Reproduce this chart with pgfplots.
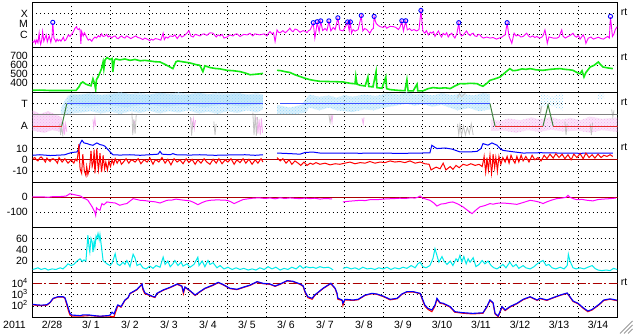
\documentclass[border=0pt]{standalone}
\usepackage{fontspec}
\setmainfont{Liberation Sans}
\usepackage{pgfplots}
\pgfplotsset{compat=1.18}
\usetikzlibrary{patterns}
\definecolor{mag}{RGB}{255,0,255}
\definecolor{grn}{RGB}{20,235,20}
\definecolor{lb}{RGB}{150,215,250}
\definecolor{lpink}{RGB}{245,175,240}
\definecolor{lgray}{RGB}{195,195,195}
\definecolor{dred}{RGB}{170,0,0}
\definecolor{tblue}{RGB}{60,80,255}
\definecolor{tgreen}{RGB}{60,130,60}
\definecolor{tred}{RGB}{230,40,40}
\definecolor{cyn}{RGB}{0,235,235}
\pgfplotsset{
  panel/.style={
    at={(32.5pt,-#1pt)}, anchor=north west,
    scale only axis, width=585pt, height=45pt,
    xmin=0, xmax=15,
    axis line style={line width=1pt},
    major tick length=0pt, minor tick length=0pt,
    xtick={0.5,1.5,...,14.5}, xticklabels={},
    minor xtick={1,2,...,14}, xminorgrids=true, xmajorgrids=false,
    ymajorgrids=true,
    minor grid style={black, line width=0.9pt, dash pattern=on 0.9pt off 3.1pt},
    major grid style={black, line width=0.9pt, dash pattern=on 0.9pt off 3.1pt},
    every tick label/.append style={font=\fontsize{10.5}{12}\selectfont},
    yticklabel style={inner sep=0pt, xshift=-4.5pt, text height=7pt, text depth=0pt},
    clip=true,
  },
  lbpat/.style={draw=none, pattern=crosshatch dots, pattern color=lb},
}
\begin{document}
\begin{tikzpicture}
\useasboundingbox (0pt,-334pt) rectangle (633pt,0pt);
\fill[white] (0pt,-334pt) rectangle (633pt,0pt);

% ---------- Panel 1: X-ray ----------
\begin{axis}[panel=2.3, ymin=-7.17, ymax=-2.93, ytick={-6,-5,-4}, yticklabels={C,M,X}]
\addplot[mag, line width=0.9pt] coordinates {
(0.00,-6.63)(0.03,-6.7)(0.06,-6.5)(0.08,-6.8)(0.11,-6.47)(0.14,-6.75)(0.17,-5.84)(0.19,-6.6)(0.21,-6.9)(0.24,-6.4)(0.26,-5.69)(0.29,-6.6)(0.32,-6.3)(0.35,-6.0)(0.38,-6.65)(0.41,-6.3)(0.43,-6.1)(0.47,-6.7)(0.50,-6.2)(0.52,-4.87)(0.55,-6.3)(0.58,-6.5)(0.60,-6.65)(0.63,-6.4)(0.66,-6.57)(0.70,-6.45)(0.73,-6.6)(0.79,-6.22)(0.82,-6.55)(0.85,-6.5)(0.88,-6.3)(0.92,-6.0)(0.96,-6.15)(1.00,-5.95)(1.03,-5.84)(1.06,-5.6)(1.09,-5.37)(1.13,-5.22)(1.15,-5.45)(1.18,-5.5)(1.20,-5.4)(1.22,-5.53)(1.24,-6.85)(1.26,-5.68)(1.28,-5.9)(1.30,-6.1)(1.33,-5.8)(1.36,-6.0)(1.40,-6.3)(1.43,-6.5)(1.47,-6.4)(1.52,-6.6)(1.56,-6.35)(1.60,-6.2)(1.64,-6.3)(1.69,-6.07)(1.73,-6.2)(1.77,-5.9)(1.81,-6.15)(1.86,-6.1)(1.90,-5.95)(1.94,-6.2)(1.98,-6.1)(2.03,-6.3)(2.07,-6.15)(2.12,-6.1)(2.16,-6.3)(2.20,-6.35)(2.24,-6.2)(2.29,-6.1)(2.33,-6.25)(2.37,-6.3)(2.41,-6.1)(2.46,-6.2)(2.52,-6.35)(2.58,-6.22)(2.65,-6.1)(2.70,-6.25)(2.76,-6.3)(2.83,-6.45)(2.88,-6.3)(2.94,-6.4)(3.01,-6.55)(3.05,-6.4)(3.09,-6.5)(3.15,-6.35)(3.22,-6.4)(3.29,-6.5)(3.35,-5.84)(3.38,-6.45)(3.42,-6.2)(3.47,-6.3)(3.53,-6.1)(3.60,-6.15)(3.65,-6.0)(3.71,-6.35)(3.78,-6.0)(3.83,-6.2)(3.88,-6.1)(3.96,-5.84)(4.01,-5.6)(4.06,-6.1)(4.12,-6.2)(4.17,-5.95)(4.22,-6.0)(4.29,-6.1)(4.35,-5.95)(4.40,-5.9)(4.47,-6.05)(4.55,-5.8)(4.63,-5.84)(4.71,-6.2)(4.76,-6.0)(4.81,-6.1)(4.86,-5.95)(4.91,-6.3)(4.99,-6.2)(5.06,-6.0)(5.14,-6.1)(5.19,-5.95)(5.24,-5.9)(5.32,-6.15)(5.42,-5.95)(5.50,-6.0)(5.58,-5.85)(5.65,-6.1)(5.70,-5.9)(5.76,-5.95)(5.83,-6.0)(5.94,-5.9)(6.01,-6.1)(6.05,-5.85)(6.09,-5.69)(6.14,-5.9)(6.18,-5.8)(6.22,-6.63)(6.27,-5.53)(6.31,-5.75)(6.35,-5.8)(6.42,-5.6)(6.48,-5.8)(6.53,-5.65)(6.60,-5.37)(6.64,-5.6)(6.68,-5.7)(6.73,-5.45)(6.78,-5.5)(6.86,-5.75)(6.94,-5.6)(7.00,-5.7)(7.04,-5.78)(7.08,-5.6)(7.12,-5.53)(7.20,-4.9)(7.24,-6.3)(7.27,-5.6)(7.30,-4.8)(7.35,-5.7)(7.39,-4.72)(7.44,-5.6)(7.50,-5.4)(7.55,-5.6)(7.60,-4.72)(7.65,-5.63)(7.71,-5.3)(7.76,-5.5)(7.83,-4.43)(7.88,-5.53)(7.96,-5.63)(8.03,-5.2)(8.08,-4.8)(8.12,-5.6)(8.15,-4.8)(8.18,-5.84)(8.22,-5.5)(8.27,-5.65)(8.35,-5.5)(8.43,-4.21)(8.47,-5.63)(8.52,-5.4)(8.57,-5.5)(8.65,-5.84)(8.70,-5.5)(8.74,-5.4)(8.76,-4.3)(8.81,-4.9)(8.86,-5.1)(8.91,-5.22)(8.99,-5.3)(9.04,-5.15)(9.08,-5.37)(9.17,-5.2)(9.25,-5.22)(9.32,-5.3)(9.38,-5.5)(9.42,-5.3)(9.47,-4.71)(9.51,-5.63)(9.57,-4.71)(9.61,-5.53)(9.67,-5.4)(9.72,-5.6)(9.78,-5.5)(9.85,-5.63)(9.91,-5.5)(9.96,-3.74)(10.01,-5.63)(10.06,-5.84)(10.10,-5.6)(10.15,-6.0)(10.20,-5.75)(10.24,-5.84)(10.28,-5.7)(10.32,-6.15)(10.36,-5.9)(10.41,-5.63)(10.45,-6.0)(10.49,-6.2)(10.53,-5.85)(10.58,-6.0)(10.62,-5.8)(10.66,-6.2)(10.70,-6.0)(10.75,-5.84)(10.79,-6.1)(10.83,-6.3)(10.88,-5.9)(10.93,-4.9)(10.96,-5.84)(11.00,-6.1)(11.05,-6.0)(11.09,-5.8)(11.13,-5.63)(11.17,-5.9)(11.22,-6.07)(11.26,-5.9)(11.30,-5.84)(11.34,-6.1)(11.39,-6.15)(11.43,-5.95)(11.47,-6.0)(11.52,-6.2)(11.56,-6.3)(11.65,-6.2)(11.73,-6.3)(11.81,-6.25)(11.90,-6.4)(11.96,-6.3)(12.03,-6.22)(12.07,-6.1)(12.12,-6.0)(12.17,-4.9)(12.22,-6.15)(12.29,-6.79)(12.35,-5.84)(12.40,-6.1)(12.46,-6.0)(12.52,-6.2)(12.58,-6.15)(12.67,-5.84)(12.72,-6.1)(12.76,-6.22)(12.83,-6.1)(12.88,-6.25)(12.93,-6.15)(13.00,-6.3)(13.06,-6.22)(13.10,-6.0)(13.14,-5.53)(13.17,-6.1)(13.20,-6.8)(13.24,-6.2)(13.27,-6.22)(13.35,-6.3)(13.44,-6.31)(13.50,-6.2)(13.57,-5.53)(13.60,-6.1)(13.66,-6.3)(13.71,-6.2)(13.78,-6.07)(13.86,-5.84)(13.90,-6.1)(13.95,-6.22)(14.00,-6.05)(14.04,-6.4)(14.08,-6.2)(14.12,-6.0)(14.16,-6.3)(14.19,-6.8)(14.25,-6.31)(14.32,-6.2)(14.38,-6.4)(14.45,-6.3)(14.51,-6.22)(14.58,-6.35)(14.64,-6.4)(14.70,-6.25)(14.75,-6.15)(14.79,-6.3)(14.82,-4.3)(14.87,-6.15)(14.91,-5.9)(14.94,-5.53)(14.99,-5.22)};
\addplot[only marks, mark=o, mark size=2.1pt, blue, mark options={line width=0.9pt}] coordinates {
(0.52,-4.82)(7.20,-4.85)(7.30,-4.76)(7.39,-4.68)(7.60,-4.68)(7.83,-4.39)(8.08,-4.78)(8.15,-4.78)(8.43,-4.17)(8.76,-4.26)(9.47,-4.67)(9.57,-4.67)(9.96,-3.70)(10.93,-4.85)(12.17,-4.85)(14.82,-4.26)};
\end{axis}

% ---------- Panel 2: speed ----------
\begin{axis}[panel=47.3, ymin=300, ymax=800, ytick={400,500,600,700}, yticklabels={400,500,600,700},
  yticklabel style={text height=6.5pt}]
\addplot[grn, line width=1.6pt] coordinates {(0,322)(0.19,325)(0.45,320)(0.71,320)(0.96,320)(1.12,322)(1.19,360)(1.24,400)(1.29,415)(1.37,390)(1.45,378)(1.50,372)(1.55,450)(1.59,400)(1.62,330)(1.64,440)(1.68,470)(1.73,520)(1.77,563)(1.81,637)(1.83,560)(1.86,660)(1.91,685)(1.99,665)(2.04,675)(2.06,526)(2.10,660)(2.14,670)(2.24,660)(2.37,670)(2.50,655)(2.63,665)(2.76,650)(2.88,655)(3.01,648)(3.14,640)(3.27,637)(3.40,610)(3.53,580)(3.60,563)(3.68,640)(3.73,648)(3.91,635)(4.04,626)(4.17,610)(4.29,600)(4.37,530)(4.42,595)(4.55,575)(4.68,565)(4.81,560)(4.99,544)(5.14,540)(5.32,530)(5.45,515)(5.58,495)(5.71,500)(5.83,505)(5.91,510)};
\addplot[grn, line width=1.6pt] coordinates {(6.27,544)(6.37,540)(6.47,530)(6.60,520)(6.73,495)(6.86,475)(6.99,455)(7.12,440)(7.24,430)(7.37,422)(7.55,420)(7.76,418)(7.96,415)(8.14,400)(8.27,395)(8.29,480)(8.32,390)(8.40,378)(8.53,370)(8.60,470)(8.62,365)(8.73,360)(8.81,530)(8.83,352)(8.96,345)(9.06,470)(9.08,340)(9.17,330)(9.29,325)(9.42,320)(9.55,318)(9.60,440)(9.63,316)(9.76,315)(9.86,390)(9.88,315)(10.01,315)(10.14,340)(10.27,352)(10.44,345)(10.58,350)(10.71,341)(10.83,370)(10.96,396)(11.09,395)(11.22,400)(11.40,396)(11.47,380)(11.55,367)(11.65,400)(11.73,433)(11.86,450)(11.99,470)(12.12,520)(12.24,563)(12.32,540)(12.42,544)(12.55,560)(12.65,555)(12.76,563)(12.91,550)(13.09,544)(13.27,555)(13.42,560)(13.53,563)(13.65,555)(13.78,550)(13.86,544)(13.96,520)(14.04,507)(14.09,540)(14.14,470)(14.19,520)(14.30,581)(14.40,600)(14.51,637)(14.56,610)(14.63,581)(14.76,570)(14.88,563)};
\end{axis}

% ---------- Panel 3: sector T/A ----------
\begin{axis}[panel=92.3, ymin=0, ymax=1, ytick={0.25,0.75}, yticklabels={A,T}, unbounded coords=jump]
% light blue (toward) data cloud
\addplot[draw=none, fill=lb, fill opacity=0.3] coordinates {(0.72,0.55)(0.75,0.68)(0.82,0.8)(0.9,0.92)(1.0,0.97)(1.25,0.94)(1.5,0.99)(1.75,0.95)(2.0,0.97)(2.25,1.0)(2.5,0.96)(2.75,0.99)(3.0,0.95)(3.25,0.99)(3.5,0.97)(3.75,1.0)(4.0,0.96)(4.25,0.99)(4.5,0.95)(4.75,0.99)(5.0,0.97)(5.25,0.99)(5.5,0.94)(5.75,0.98)(5.91,0.95)(5.91,0.62)(5.75,0.55)(5.5,0.6)(5.25,0.54)(5.0,0.58)(4.75,0.52)(4.5,0.57)(4.25,0.53)(4.0,0.6)(3.75,0.55)(3.5,0.58)(3.25,0.53)(3.0,0.59)(2.75,0.54)(2.5,0.58)(2.25,0.52)(2.0,0.57)(1.75,0.53)(1.5,0.58)(1.25,0.55)(1.0,0.53)(0.8,0.5)};
\addplot[lbpat] coordinates {(0.72,0.55)(0.75,0.68)(0.82,0.8)(0.9,0.92)(1.0,0.97)(1.25,0.94)(1.5,0.99)(1.75,0.95)(2.0,0.97)(2.25,1.0)(2.5,0.96)(2.75,0.99)(3.0,0.95)(3.25,0.99)(3.5,0.97)(3.75,1.0)(4.0,0.96)(4.25,0.99)(4.5,0.95)(4.75,0.99)(5.0,0.97)(5.25,0.99)(5.5,0.94)(5.75,0.98)(5.91,0.95)(5.91,0.62)(5.75,0.55)(5.5,0.6)(5.25,0.54)(5.0,0.58)(4.75,0.52)(4.5,0.57)(4.25,0.53)(4.0,0.6)(3.75,0.55)(3.5,0.58)(3.25,0.53)(3.0,0.59)(2.75,0.54)(2.5,0.58)(2.25,0.52)(2.0,0.57)(1.75,0.53)(1.5,0.58)(1.25,0.55)(1.0,0.53)(0.8,0.5)};
\addplot[draw=none, fill=lb, fill opacity=0.35] coordinates {(0.9,0.75)(0.95,0.92)(1.3,0.97)(1.8,0.93)(2.3,0.98)(2.8,0.94)(3.3,0.98)(3.8,0.93)(4.3,0.98)(4.8,0.94)(5.3,0.97)(5.91,0.93)(5.91,0.74)(5.4,0.68)(4.9,0.73)(4.4,0.67)(3.9,0.72)(3.4,0.68)(2.9,0.73)(2.4,0.67)(1.9,0.72)(1.4,0.68)(1.0,0.72)};
\addplot[draw=none, fill=lb, fill opacity=0.35] coordinates {(6.27,0.72)(6.6,0.66)(6.9,0.72)(7.05,0.9)(7.1,0.95)(7.35,0.9)(7.6,0.93)(7.8,0.88)(8.0,0.94)(8.2,0.9)(8.5,0.95)(8.8,0.92)(9.1,0.98)(9.4,0.95)(9.6,1.0)(9.8,0.95)(10.0,0.97)(10.25,0.93)(10.5,0.98)(10.75,0.94)(11.0,0.97)(11.3,0.93)(11.55,0.98)(11.73,0.96)(11.73,0.62)(11.45,0.58)(11.2,0.65)(10.9,0.6)(10.5,0.72)(10.25,0.68)(10.0,0.74)(9.8,0.7)(9.6,0.75)(9.3,0.7)(9.0,0.66)(8.75,0.6)(8.5,0.62)(8.2,0.56)(7.8,0.6)(7.6,0.66)(7.35,0.6)(7.1,0.66)(7.0,0.55)(6.6,0.5)(6.27,0.53)};
\addplot[lbpat] coordinates {(6.27,0.72)(6.6,0.66)(6.9,0.72)(7.05,0.9)(7.1,0.95)(7.35,0.9)(7.6,0.93)(7.8,0.88)(8.0,0.94)(8.2,0.9)(8.5,0.95)(8.8,0.92)(9.1,0.98)(9.4,0.95)(9.6,1.0)(9.8,0.95)(10.0,0.97)(10.25,0.93)(10.5,0.98)(10.75,0.94)(11.0,0.97)(11.3,0.93)(11.55,0.98)(11.73,0.96)(11.73,0.62)(11.45,0.58)(11.2,0.65)(10.9,0.6)(10.5,0.72)(10.25,0.68)(10.0,0.74)(9.8,0.7)(9.6,0.75)(9.3,0.7)(9.0,0.66)(8.75,0.6)(8.5,0.62)(8.2,0.56)(7.8,0.6)(7.6,0.66)(7.35,0.6)(7.1,0.66)(7.0,0.55)(6.6,0.5)(6.27,0.53)};
\addplot[lbpat] coordinates {(13.0,0.65)(13.05,0.98)(13.3,0.9)(13.6,0.98)(13.6,0.6)(13.3,0.7)};
\addplot[lbpat] coordinates {(14.48,0.85)(14.5,0.98)(14.66,0.98)(14.66,0.85)};
% light pink (away) data cloud
\addplot[draw=none, fill=lpink, fill opacity=0.45] coordinates {(0,0.6)(0.2,0.52)(0.4,0.58)(0.6,0.5)(0.75,0.45)(0.75,0.12)(0.5,0.16)(0.3,0.1)(0,0.15)};
\addplot[draw=none, pattern=crosshatch dots, pattern color=lpink] coordinates {(0,0.6)(0.2,0.52)(0.4,0.58)(0.6,0.5)(0.75,0.45)(0.75,0.12)(0.5,0.16)(0.3,0.1)(0,0.15)};
\addplot[draw=none, fill=lpink, fill opacity=0.3] coordinates {(11.75,0.40)(12.0,0.36)(12.2,0.42)(12.5,0.38)(12.8,0.44)(13.0,0.40)(13.3,0.45)(13.55,0.39)(13.8,0.43)(14.05,0.38)(14.3,0.46)(14.6,0.41)(15,0.44)(15,0.12)(14.6,0.16)(14.3,0.10)(14.0,0.15)(13.6,0.13)(13.3,0.17)(13.0,0.12)(12.7,0.16)(12.4,0.10)(12.1,0.15)(11.75,0.14)};
\addplot[draw=none, pattern=crosshatch dots, pattern color=lpink] coordinates {(11.75,0.40)(12.0,0.36)(12.2,0.42)(12.5,0.38)(12.8,0.44)(13.0,0.40)(13.3,0.45)(13.55,0.39)(13.8,0.43)(14.05,0.38)(14.3,0.46)(14.6,0.41)(15,0.44)(15,0.12)(14.6,0.16)(14.3,0.10)(14.0,0.15)(13.6,0.13)(13.3,0.17)(13.0,0.12)(12.7,0.16)(12.4,0.10)(12.1,0.15)(11.75,0.14)};
\addplot[lpink, line width=0.8pt] coordinates {(0.78,0.08)(0.80,0.33)(0.82,0.06)(0.85,0.30)(0.88,0.12)(0.9,nan)(1.55,0.40)(1.57,0.22)(1.60,0.42)(1.62,0.25)(1.7,nan)(2.58,0.38)(2.60,0.20)(2.62,0.36)(2.7,nan)(4.08,0.42)(4.10,0.18)(4.13,0.40)(4.15,0.20)(4.18,0.38)(4.3,nan)(5.75,0.45)(5.78,0.08)(5.81,0.40)(5.84,0.05)(5.87,0.42)(5.90,0.10)(6.0,nan)(7.65,0.52)(7.68,0.33)(7.70,0.50)(7.8,nan)(8.45,0.42)(8.48,0.30)(8.50,0.44)};
\addplot[lgray, line width=0.8pt] coordinates {(0.70,0.30)(0.72,0.05)(0.75,0.25)(0.78,0.02)(0.8,nan)(2.55,0.55)(2.57,0.05)(2.60,0.40)(2.63,0.08)(2.66,0.50)(2.7,nan)(4.05,0.45)(4.08,0.04)(4.11,0.35)(4.2,nan)(4.65,0.35)(4.68,0.05)(4.71,0.30)(4.8,nan)(5.65,0.55)(5.68,0.05)(5.71,0.50)(5.74,0.04)(5.77,0.45)(5.8,nan)(7.60,0.50)(7.63,0.33)(7.66,0.48)(7.7,nan)(10.9,0.3)(10.93,0.05)(10.96,0.28)(11.0,0.04)(11.05,0.25)(11.1,0.05)(11.15,0.22)(11.2,0.08)(11.25,0.3)(11.3,0.05)(11.4,nan)(10.9,0.88)(10.95,0.97)(11.0,0.9)(11.1,0.98)(11.2,nan)(13.0,0.72)(13.03,0.55)(13.06,0.70)(13.1,nan)(13.65,0.35)(13.68,0.05)(13.71,0.30)(13.8,nan)(14.3,0.3)(14.33,0.05)(14.36,0.32)(14.4,nan)(14.85,0.62)(14.88,0.45)(14.91,0.60)};
\addplot[gray, line width=1pt] coordinates {(0,0.5)(15,0.5)};
\addplot[tred, line width=1pt] coordinates {(0,0.25)(0.75,0.25)};
\addplot[tgreen, line width=1pt] coordinates {(0.75,0.25)(0.88,0.75)};
\addplot[tblue, line width=1pt] coordinates {(0.88,0.75)(5.91,0.75)};
\addplot[tblue, line width=1pt] coordinates {(6.35,0.75)(11.73,0.75)};
\addplot[tgreen, line width=1pt] coordinates {(11.73,0.75)(11.86,0.25)};
\addplot[tred, line width=1pt] coordinates {(11.86,0.25)(13.09,0.25)};
\addplot[tgreen, line width=1pt] coordinates {(13.09,0.25)(13.22,0.72)(13.35,0.25)};
\addplot[tred, line width=1pt] coordinates {(13.35,0.25)(15,0.25)};
\end{axis}

% ---------- Panel 4: Bt / Bz ----------
\begin{axis}[panel=137.3, ymin=-20, ymax=20, ytick={-10,0,10}, yticklabels={-10,0,10}]
\addplot[blue, line width=1pt] coordinates {(0,4)(0.19,4.5)(0.45,3.8)(0.71,4.2)(0.83,4.5)(0.91,5.5)(1.01,6.5)(1.14,7)(1.19,10)(1.22,14.4)(1.27,17.3)(1.32,15)(1.40,14.4)(1.47,13.5)(1.55,12.9)(1.60,14)(1.65,15)(1.73,13.5)(1.81,12.9)(1.86,12)(1.91,10)(1.99,7)(2.06,4.5)(2.24,4.2)(2.50,4.5)(2.76,4)(3.01,4.5)(3.22,5)(3.27,7.5)(3.32,5)(3.53,4.5)(3.60,5.5)(3.68,4.5)(4.04,4.2)(4.29,4.5)(4.68,4)(5.06,4.3)(5.45,4.5)(5.71,4)(5.91,4.5)};
\addplot[blue, line width=1pt] coordinates {(6.27,6)(6.60,5.5)(6.86,5)(6.99,6.5)(7.19,6.9)(7.37,6)(7.88,6)(8.40,5.8)(8.91,6)(9.42,5.7)(9.94,6)(10.19,6.2)(10.24,12.9)(10.32,11)(10.37,10)(10.58,10.5)(10.76,9.5)(10.96,7)(11.22,7)(11.40,7.5)(11.50,10)(11.55,14.4)(11.68,13)(11.78,15)(11.91,13)(11.99,10)(12.06,8.4)(12.24,7.5)(12.58,6)(13.01,6.3)(13.53,6)(14.04,5.8)(14.55,6)(14.88,6)};
\addplot[dred, line width=1pt] coordinates {(0,0)(15,0)};
\addplot[red, line width=1pt] coordinates {(0,1)(0.06,2)(0.10,0)(0.14,-1)(0.18,1.5)(0.22,2.5)(0.29,0)(0.33,-2)(0.37,1.5)(0.45,-1.5)(0.49,0.5)(0.53,1)(0.60,-1)(0.64,-3)(0.68,2)(0.76,-2)(0.83,1)(0.87,-1)(0.91,-3)(0.99,0)(1.06,-3)(1.10,0.5)(1.14,-1)(1.17,6)(1.19,14)(1.21,-2)(1.22,-8)(1.26,-12)(1.29,5)(1.31,-3)(1.33,-10)(1.37,-14)(1.39,-6)(1.42,-13)(1.46,-8)(1.48,-1)(1.50,8)(1.53,-6)(1.56,-2)(1.58,9)(1.60,-12)(1.62,-4)(1.65,10)(1.67,-2)(1.69,-9)(1.71,-3)(1.73,6)(1.77,-11)(1.79,-5)(1.81,4)(1.85,-8)(1.88,-2)(1.92,-9)(1.96,-1)(1.98,-4)(2.00,-6)(2.04,0)(2.08,-4)(2.12,1)(2.17,-3)(2.20,-1)(2.24,0)(2.28,-4)(2.32,-2.5)(2.40,1)(2.47,-3)(2.51,-1)(2.55,0)(2.63,-2)(2.71,1)(2.78,-3.5)(2.86,0)(2.94,-2)(3.01,1.5)(3.09,-4)(3.13,-1)(3.17,0)(3.24,-2)(3.32,2)(3.40,-3)(3.47,0.5)(3.55,-4.5)(3.63,1)(3.71,-2)(3.78,0)(3.86,-3.5)(3.94,1)(4.01,-2.5)(4.09,0.5)(4.17,-4)(4.24,0)(4.32,-3)(4.40,1)(4.47,-2)(4.55,-4)(4.63,0.5)(4.71,-3)(4.78,1)(4.86,-3.5)(4.94,0)(5.01,-2)(5.09,1)(5.17,-4)(5.24,0)(5.32,-2.5)(5.40,1)(5.47,-3)(5.55,0.5)(5.63,-4)(5.71,0)(5.78,-3)(5.86,1)(5.91,-2)};
\addplot[red, line width=1pt] coordinates {(6.27,2)(6.35,-1)(6.42,1)(6.50,-3)(6.58,0)(6.65,-4)(6.73,-1)(6.81,-3)(6.88,-5)(6.96,-2)(7.04,-5)(7.12,-3)(7.19,-4)(7.27,-2.5)(7.37,-4)(7.50,-3)(7.63,-4.5)(7.76,-3.5)(7.88,-4)(8.01,-3)(8.14,-2)(8.27,-3.5)(8.40,-2.5)(8.53,-3)(8.65,-1.5)(8.78,-3)(8.91,-2)(9.04,-2.5)(9.17,-1)(9.29,-2)(9.42,-1.5)(9.55,-2.5)(9.68,-1)(9.81,-3)(9.94,-2)(10.06,-3.5)(10.17,-4)(10.22,-9)(10.27,-8)(10.35,-6.5)(10.45,-8)(10.53,-3)(10.60,-9)(10.71,-6)(10.78,-8.5)(10.86,-5)(10.94,-7)(11.04,-4)(11.14,-5)(11.24,-3.5)(11.35,-5)(11.45,-4)(11.53,-6)(11.56,-1)(11.58,3)(11.62,-11)(11.64,-5)(11.65,2)(11.69,-9)(11.71,-2)(11.73,4)(11.77,-12)(11.79,-6)(11.81,5)(11.85,-7)(11.88,2)(11.90,-3)(11.92,-10)(11.96,3)(12.01,-4)(12.06,2)(12.12,-2)(12.17,3)(12.22,-3)(12.27,4)(12.32,0)(12.37,-3)(12.42,3)(12.47,-2)(12.53,4)(12.58,-1)(12.65,3)(12.73,-2)(12.81,4)(12.88,0)(12.96,2)(13.04,-1)(13.12,4)(13.19,1)(13.27,5)(13.35,1.5)(13.42,5.5)(13.50,2)(13.58,5)(13.65,1)(13.73,4.5)(13.81,0)(13.88,5)(13.96,2)(14.04,5.5)(14.12,1)(14.19,6)(14.27,2)(14.35,4.5)(14.42,1.5)(14.50,5)(14.58,2)(14.65,4)(14.73,3)(14.81,4.5)(14.88,3)};
\end{axis}

% ---------- Panel 5: Dst ----------
\begin{axis}[panel=182.3, ymin=-200, ymax=100, ytick={-100,0}, yticklabels={-100,0}]
\addplot[dred, line width=1pt] coordinates {(0,0)(15,0)};
\addplot[mag, line width=1pt] coordinates {(0,2)(0.27,3)(0.40,0)(0.53,5)(0.71,5)(0.86,8)(0.96,24)(1.06,18)(1.17,12)(1.24,8)(1.29,-4)(1.37,-12)(1.42,-20)(1.47,-40)(1.53,-64)(1.60,-100)(1.62,-120)(1.64,-70)(1.68,-80)(1.73,-86)(1.78,-42)(1.83,-50)(1.91,-31)(2.01,-35)(2.12,-38)(2.24,-53)(2.35,-45)(2.42,-42)(2.50,-25)(2.58,-9)(2.68,-15)(2.76,-20)(2.88,-22)(3.01,-27)(3.14,-30)(3.27,-38)(3.35,-30)(3.45,-20)(3.58,-18)(3.68,-12)(3.78,-16)(3.91,-20)(4.04,-24)(4.14,-35)(4.24,-49)(4.35,-35)(4.45,-25)(4.55,-20)(4.68,-18)(4.81,-18)(4.99,-20)(5.09,-30)(5.17,-42)(5.27,-30)(5.40,-15)(5.53,-10)(5.68,-5)(5.83,-4)(5.96,-8)(6.09,-4)(6.22,-10)(6.35,-3)(6.47,-8)(6.60,-4)(6.73,-7)(6.86,-9)(6.99,-5)(7.12,-9)(7.24,-6)(7.37,-12)(7.50,-8)(7.63,-10)(7.68,-10)};
\addplot[mag, line width=1pt] coordinates {(7.96,-31)(8.08,-27)(8.22,-24)(8.40,-20)(8.53,-22)(8.65,-16)(8.83,-16)(8.99,-12)(9.12,-10)(9.25,-9)(9.42,-6)(9.55,-8)(9.68,-4)(9.81,-5)(9.88,0)(9.94,9)(10.00,-5)(10.09,-12)(10.19,-20)(10.30,-40)(10.37,-58)(10.47,-45)(10.58,-42)(10.68,-34)(10.78,-31)(10.91,-45)(11.04,-64)(11.17,-90)(11.27,-109)(11.37,-85)(11.47,-64)(11.60,-55)(11.73,-42)(11.81,-46)(11.91,-40)(12.06,-38)(12.24,-42)(12.42,-47)(12.58,-35)(12.76,-20)(12.88,-25)(13.01,-33)(13.09,-42)(13.19,-30)(13.32,-18)(13.44,-9)(13.58,-5)(13.68,0)(13.73,13)(13.78,0)(13.88,-10)(13.96,-16)(14.09,-14)(14.22,-20)(14.37,-24)(14.50,-15)(14.63,-12)(14.81,-9)(14.96,-5)};
\end{axis}

% ---------- Panel 6: density ----------
\begin{axis}[panel=227.3, ymin=0, ymax=80, ytick={20,40,60}, yticklabels={20,40,60}]
\addplot[cyn, line width=1pt] coordinates {(0,5)(0.06,6)(0.14,8)(0.22,5)(0.32,7)(0.40,4)(0.50,6)(0.60,5)(0.71,8)(0.78,6)(0.86,11)(0.91,15)(0.99,12)(1.06,14)(1.14,20)(1.22,24)(1.28,19)(1.32,22)(1.37,20)(1.42,66)(1.45,45)(1.47,36)(1.50,60)(1.53,54)(1.55,36)(1.58,55)(1.60,45)(1.63,64)(1.65,60)(1.68,69)(1.71,58)(1.73,67)(1.76,50)(1.81,21)(1.86,18)(1.91,15)(1.99,12)(2.04,16)(2.12,33)(2.17,15)(2.24,12)(2.32,18)(2.37,14)(2.42,21)(2.50,10)(2.58,32)(2.63,25)(2.68,12)(2.76,15)(2.83,8)(2.91,6)(3.01,11)(3.09,7)(3.17,12)(3.27,9)(3.35,27)(3.40,14)(3.47,20)(3.53,10)(3.60,15)(3.65,21)(3.73,12)(3.81,18)(3.86,11)(3.96,15)(4.04,9)(4.14,14)(4.24,27)(4.27,12)(4.35,20)(4.42,10)(4.50,21)(4.55,14)(4.63,17)(4.73,8)(4.81,12)(4.91,6)(5.01,9)(5.12,5)(5.22,8)(5.32,5)(5.42,7)(5.53,4)(5.63,6)(5.73,4)(5.83,8)(5.94,5)(6.04,10)(6.14,6)(6.24,9)(6.35,4)(6.45,7)(6.55,5)(6.65,9)(6.76,6)(6.86,12)(6.94,7)(7.01,10)(7.12,8)(7.19,9)(7.27,7)(7.37,10)(7.47,8)(7.58,9)(7.65,7)(7.71,4)};
\addplot[cyn, line width=1pt] coordinates {(7.96,7)(8.06,9)(8.17,6)(8.27,8)(8.37,5)(8.47,9)(8.58,6)(8.68,7)(8.78,5)(8.88,8)(8.99,6)(9.09,9)(9.19,5)(9.29,8)(9.40,6)(9.50,9)(9.60,7)(9.71,12)(9.81,8)(9.88,15)(9.94,18)(10.01,10)(10.09,8)(10.19,12)(10.27,25)(10.32,42)(10.37,30)(10.42,18)(10.50,28)(10.55,20)(10.63,14)(10.71,20)(10.78,12)(10.86,24)(10.91,20)(10.96,30)(11.01,18)(11.06,28)(11.12,15)(11.17,24)(11.22,18)(11.30,26)(11.37,10)(11.45,14)(11.53,21)(11.60,15)(11.68,20)(11.76,12)(11.83,8)(11.91,6)(11.99,10)(12.06,14)(12.14,8)(12.24,18)(12.32,10)(12.40,14)(12.47,7)(12.58,12)(12.65,8)(12.76,6)(12.86,10)(12.94,15)(13.01,18)(13.09,21)(13.17,12)(13.24,14)(13.32,8)(13.42,6)(13.53,9)(13.63,6)(13.71,12)(13.74,32)(13.78,20)(13.86,8)(13.94,6)(14.04,8)(14.14,6)(14.24,9)(14.35,12)(14.42,7)(14.50,4)(14.60,3)(14.71,4)(14.81,3)(14.90,7)(14.99,5)};
\end{axis}

% ---------- Panel 7: electrons ----------
\begin{axis}[panel=272.3, ymin=1, ymax=5, ytick={2,3,4},
  yticklabels={10\textsuperscript{2},10\textsuperscript{3},10\textsuperscript{4}},
  xticklabels={2/28,3/ 1,3/ 2,3/ 3,3/ 4,3/ 5,3/ 6,3/ 7,3/ 8,3/ 9,3/10,3/11,3/12,3/13,3/14}]
\addplot[dred, line width=1.3pt, dash pattern=on 9pt off 2.5pt on 2pt off 2.5pt] coordinates {(0,4)(15,4)};
\addplot[red, line width=1.1pt] coordinates {(0.00,2.12)(0.12,2.05)(0.24,2.04)(0.37,2.08)(0.45,2.3)(0.53,2.66)(0.65,2.8)(0.78,2.8)(0.83,2.7)(0.88,2.1)(0.92,1.6)(0.96,1.2)(1.01,1.12)(1.22,1.1)(1.47,1.15)(1.73,1.08)(1.94,1.12)(1.99,1.1)(2.04,1.05)(2.09,1.05)(2.17,1.85)(2.19,2.05)(2.27,1.9)(2.37,2.5)(2.45,2.72)(2.50,3.1)(2.58,3.25)(2.68,3.45)(2.76,3.75)(2.81,3.9)(2.83,3.45)(2.88,3.1)(2.96,3.0)(3.06,2.85)(3.14,2.76)(3.19,3.1)(3.27,3.25)(3.35,3.4)(3.53,3.64)(3.71,3.93)(3.83,3.75)(3.87,3.1)(3.91,3.66)(4.04,3.33)(4.17,2.94)(4.29,3.25)(4.42,3.55)(4.63,3.84)(4.76,4.08)(4.88,3.9)(5.06,3.55)(5.24,3.46)(5.40,3.64)(5.58,3.84)(5.76,4.14)(5.91,3.99)(6.09,3.93)(6.22,3.75)(6.35,3.93)(6.53,4.23)(6.68,4.17)(6.86,3.93)(6.94,3.75)(6.99,3.2)(7.06,2.75)(7.17,2.6)(7.24,2.95)(7.29,3.1)(7.45,3.55)(7.58,3.84)(7.65,3.99)(7.76,3.55)(7.81,3.05)(7.83,2.6)(7.94,2.5)(7.96,2.05)(8.01,2.55)(8.22,2.5)(8.35,2.56)(8.53,2.95)(8.71,3.1)(8.83,3.04)(8.99,2.85)(9.17,2.55)(9.35,2.65)(9.47,3.04)(9.60,3.25)(9.76,3.25)(9.94,3.1)(10.01,2.45)(10.06,2.0)(10.14,1.7)(10.24,1.5)(10.32,2.0)(10.37,2.6)(10.45,2.25)(10.53,2.2)(10.71,1.9)(10.83,1.45)(11.04,1.36)(11.29,1.3)(11.55,1.36)(11.65,1.9)(11.73,2.5)(11.81,2.25)(11.86,1.3)(11.94,1.05)(12.04,1.9)(12.12,1.6)(12.24,1.9)(12.42,2.2)(12.58,2.56)(12.76,2.8)(12.94,2.5)(13.01,2.66)(13.19,2.5)(13.35,2.72)(13.53,2.95)(13.71,3.13)(13.78,2.8)(13.86,2.4)(13.99,2.2)(14.12,1.8)(14.24,1.5)(14.35,1.65)(14.53,2.12)(14.65,2.5)(14.81,2.6)(14.99,2.48)};
\addplot[blue, line width=1.1pt] coordinates {(0.00,2.16)(0.12,2.1)(0.24,2.08)(0.37,2.12)(0.45,2.33)(0.53,2.69)(0.65,2.83)(0.78,2.83)(0.83,2.75)(0.88,2.24)(0.92,1.8)(0.96,1.36)(1.01,1.2)(1.22,1.15)(1.30,1.22)(1.47,1.2)(1.60,1.14)(1.73,1.1)(1.94,1.15)(1.99,1.2)(2.04,1.45)(2.09,1.3)(2.17,2.0)(2.19,2.1)(2.27,1.95)(2.37,2.54)(2.45,2.75)(2.50,3.13)(2.58,3.28)(2.68,3.49)(2.76,3.78)(2.81,3.96)(2.83,3.6)(2.88,3.19)(2.96,3.04)(3.06,2.89)(3.14,2.8)(3.19,3.13)(3.27,3.28)(3.35,3.43)(3.53,3.67)(3.71,3.96)(3.83,3.78)(3.87,3.28)(3.91,3.7)(4.04,3.37)(4.17,2.98)(4.29,3.28)(4.42,3.58)(4.63,3.87)(4.76,4.11)(4.88,3.93)(5.06,3.58)(5.24,3.49)(5.40,3.67)(5.58,3.87)(5.76,4.17)(5.91,4.02)(6.09,3.96)(6.22,3.78)(6.35,3.96)(6.53,4.26)(6.68,4.2)(6.86,3.96)(6.94,3.8)(6.99,3.28)(7.06,2.83)(7.17,2.69)(7.24,3.0)(7.29,3.13)(7.45,3.58)(7.58,3.87)(7.65,4.02)(7.76,3.58)(7.81,3.13)(7.83,2.69)(7.94,2.54)(7.96,2.24)(8.01,2.6)(8.22,2.54)(8.35,2.6)(8.53,2.98)(8.71,3.13)(8.83,3.07)(8.99,2.89)(9.17,2.6)(9.35,2.69)(9.47,3.07)(9.60,3.28)(9.76,3.28)(9.94,3.13)(10.01,2.54)(10.06,2.09)(10.14,1.8)(10.24,1.65)(10.32,2.09)(10.37,2.69)(10.45,2.3)(10.53,2.25)(10.71,1.95)(10.83,1.5)(11.04,1.41)(11.29,1.35)(11.55,1.4)(11.65,1.95)(11.73,2.54)(11.81,2.3)(11.86,1.35)(11.94,1.12)(12.04,1.95)(12.12,1.65)(12.24,1.95)(12.42,2.24)(12.58,2.6)(12.76,2.83)(12.94,2.54)(13.01,2.7)(13.19,2.54)(13.35,2.75)(13.53,2.98)(13.71,3.16)(13.78,2.83)(13.86,2.45)(13.99,2.24)(14.12,1.85)(14.24,1.56)(14.35,1.7)(14.53,2.16)(14.65,2.54)(14.81,2.64)(14.99,2.52)};
\end{axis}

% ---------- labels outside ----------
\node[anchor=north, inner sep=0.333em, font=\fontsize{10.5}{12}\selectfont] at (14.5pt,-317.3pt) {2011};
\foreach \yy in {11.8,56.8,101.8,146.8,281.8}
  \node[font=\fontsize{10.5}{12}\selectfont, inner sep=0pt] at (624pt,-\yy pt) {rt};
% window resize grip
\foreach \k in {0,4,8} {
  \draw[gray!80, line width=0.9pt] (620pt+\k pt,-333.5pt) -- (632.5pt,-321pt-\k pt);
}
\end{tikzpicture}
\end{document}
